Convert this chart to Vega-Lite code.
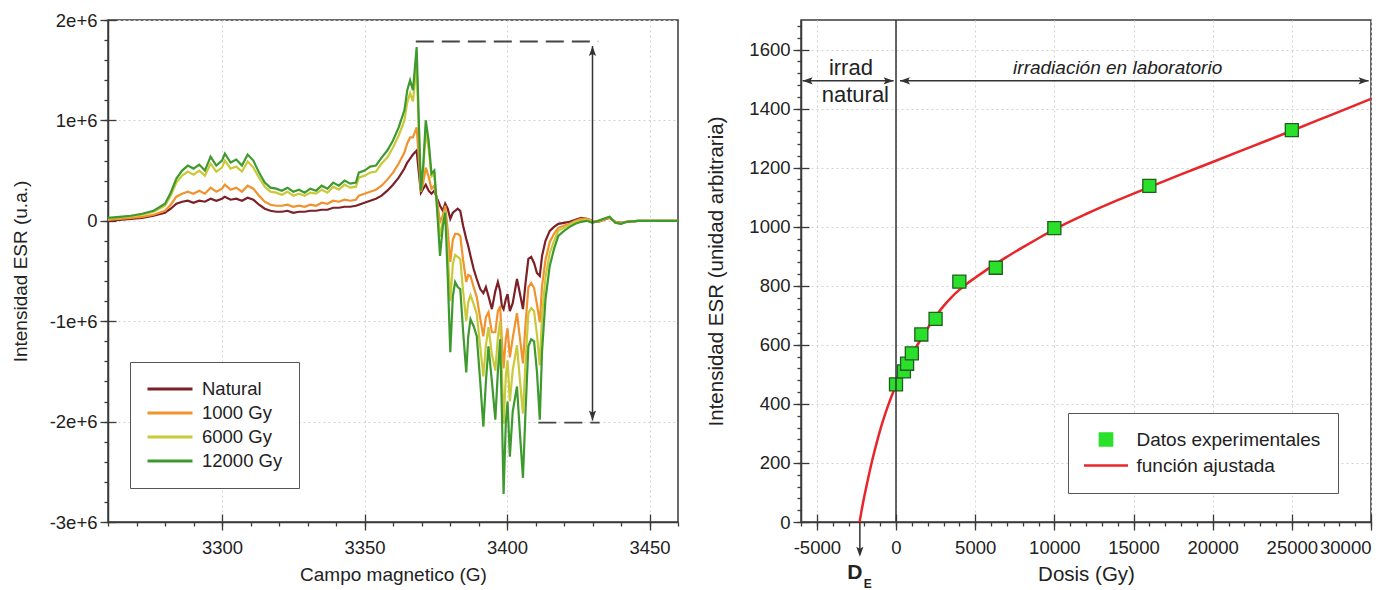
{
"$schema":"https://vega.github.io/schema/vega-lite/v6.json",
"padding":{"left":10,"top":10,"right":2,"bottom":0},
"bounds":"flush",
"spacing":123,
"config":{"font":"Liberation Sans","view":{"stroke":"#3a3a3a","strokeWidth":1.5},
"axis":{"domainColor":"#3a3a3a","domainWidth":1.5,"tickColor":"#3a3a3a","tickWidth":1.3,"labelColor":"#222","titleColor":"#222","labelFontSize":18.5,"titleFontWeight":"normal","gridColor":"#d2d2d2","gridDash":[2,3],"gridWidth":1},
"legend":{"labelColor":"#222"}},
"resolve":{"scale":{"color":"independent","shape":"independent"},"legend":{"color":"independent","shape":"independent"}},
"hconcat":[
{"width":570,"height":502,
"resolve":{"axis":{"x":"independent","y":"independent"}},
"layer":[
{"data":{"values":[
{"s":"Natural","x":3260,"y":0},{"s":"Natural","x":3264,"y":10000},{"s":"Natural","x":3268,"y":20000},{"s":"Natural","x":3272,"y":30000},{"s":"Natural","x":3276,"y":50000},{"s":"Natural","x":3280,"y":80000},{"s":"Natural","x":3282,"y":120000},{"s":"Natural","x":3284,"y":170000},{"s":"Natural","x":3286,"y":190000},{"s":"Natural","x":3288,"y":200000},{"s":"Natural","x":3290,"y":180000},{"s":"Natural","x":3292,"y":200000},{"s":"Natural","x":3294,"y":190000},{"s":"Natural","x":3296,"y":220000},{"s":"Natural","x":3298,"y":200000},{"s":"Natural","x":3300,"y":220000},{"s":"Natural","x":3301,"y":240000},{"s":"Natural","x":3303,"y":210000},{"s":"Natural","x":3305,"y":220000},{"s":"Natural","x":3307,"y":200000},{"s":"Natural","x":3309,"y":230000},{"s":"Natural","x":3311,"y":210000},{"s":"Natural","x":3313,"y":160000},{"s":"Natural","x":3315,"y":120000},{"s":"Natural","x":3317,"y":100000},{"s":"Natural","x":3319,"y":90000},{"s":"Natural","x":3321,"y":90000},{"s":"Natural","x":3323,"y":100000},{"s":"Natural","x":3325,"y":80000},{"s":"Natural","x":3327,"y":90000},{"s":"Natural","x":3329,"y":90000},{"s":"Natural","x":3331,"y":100000},{"s":"Natural","x":3333,"y":100000},{"s":"Natural","x":3335,"y":110000},{"s":"Natural","x":3337,"y":110000},{"s":"Natural","x":3339,"y":130000},{"s":"Natural","x":3341,"y":130000},{"s":"Natural","x":3343,"y":140000},{"s":"Natural","x":3345,"y":140000},{"s":"Natural","x":3347,"y":150000},{"s":"Natural","x":3348,"y":160000},{"s":"Natural","x":3350,"y":180000},{"s":"Natural","x":3352,"y":200000},{"s":"Natural","x":3354,"y":220000},{"s":"Natural","x":3356,"y":250000},{"s":"Natural","x":3358,"y":300000},{"s":"Natural","x":3360,"y":360000},{"s":"Natural","x":3362,"y":430000},{"s":"Natural","x":3364,"y":520000},{"s":"Natural","x":3365,"y":580000},{"s":"Natural","x":3366,"y":620000},{"s":"Natural","x":3367,"y":660000},{"s":"Natural","x":3368.3,"y":700000},{"s":"Natural","x":3369,"y":500000},{"s":"Natural","x":3369.8,"y":280000},{"s":"Natural","x":3370.6,"y":320000},{"s":"Natural","x":3371.5,"y":360000},{"s":"Natural","x":3372.5,"y":300000},{"s":"Natural","x":3373.5,"y":270000},{"s":"Natural","x":3374.5,"y":300000},{"s":"Natural","x":3375.5,"y":220000},{"s":"Natural","x":3376.5,"y":150000},{"s":"Natural","x":3377.5,"y":100000},{"s":"Natural","x":3378.3,"y":170000},{"s":"Natural","x":3379.2,"y":120000},{"s":"Natural","x":3380.1,"y":20000},{"s":"Natural","x":3381,"y":80000},{"s":"Natural","x":3381.8,"y":100000},{"s":"Natural","x":3382.7,"y":120000},{"s":"Natural","x":3383.6,"y":100000},{"s":"Natural","x":3384.6,"y":-50000},{"s":"Natural","x":3385.7,"y":-180000},{"s":"Natural","x":3386.4,"y":-250000},{"s":"Natural","x":3387.2,"y":-350000},{"s":"Natural","x":3388.3,"y":-480000},{"s":"Natural","x":3389.4,"y":-580000},{"s":"Natural","x":3390.6,"y":-680000},{"s":"Natural","x":3391.7,"y":-720000},{"s":"Natural","x":3392.6,"y":-660000},{"s":"Natural","x":3393.5,"y":-750000},{"s":"Natural","x":3394.7,"y":-880000},{"s":"Natural","x":3395.9,"y":-700000},{"s":"Natural","x":3396.8,"y":-610000},{"s":"Natural","x":3397.6,"y":-700000},{"s":"Natural","x":3398.2,"y":-850000},{"s":"Natural","x":3398.8,"y":-880000},{"s":"Natural","x":3399.6,"y":-780000},{"s":"Natural","x":3400.2,"y":-730000},{"s":"Natural","x":3401,"y":-900000},{"s":"Natural","x":3402,"y":-820000},{"s":"Natural","x":3403.5,"y":-580000},{"s":"Natural","x":3404.5,"y":-720000},{"s":"Natural","x":3405.6,"y":-880000},{"s":"Natural","x":3406.5,"y":-620000},{"s":"Natural","x":3407.5,"y":-380000},{"s":"Natural","x":3408.5,"y":-360000},{"s":"Natural","x":3409.5,"y":-420000},{"s":"Natural","x":3410.5,"y":-520000},{"s":"Natural","x":3411.5,"y":-550000},{"s":"Natural","x":3412.3,"y":-350000},{"s":"Natural","x":3413.5,"y":-200000},{"s":"Natural","x":3415,"y":-100000},{"s":"Natural","x":3416.5,"y":-60000},{"s":"Natural","x":3418,"y":-30000},{"s":"Natural","x":3420,"y":-20000},{"s":"Natural","x":3422,"y":-10000},{"s":"Natural","x":3424,"y":10000},{"s":"Natural","x":3426,"y":30000},{"s":"Natural","x":3428,"y":20000},{"s":"Natural","x":3430,"y":0},{"s":"Natural","x":3432,"y":-10000},{"s":"Natural","x":3434,"y":10000},{"s":"Natural","x":3436,"y":30000},{"s":"Natural","x":3438,"y":-10000},{"s":"Natural","x":3440,"y":-20000},{"s":"Natural","x":3442,"y":-10000},{"s":"Natural","x":3446,"y":0},{"s":"Natural","x":3450,"y":0},{"s":"Natural","x":3455,"y":0},{"s":"Natural","x":3460,"y":0},
{"s":"1000 Gy","x":3260,"y":10000},{"s":"1000 Gy","x":3264,"y":20000},{"s":"1000 Gy","x":3268,"y":30000},{"s":"1000 Gy","x":3272,"y":40000},{"s":"1000 Gy","x":3276,"y":60000},{"s":"1000 Gy","x":3280,"y":100000},{"s":"1000 Gy","x":3282,"y":160000},{"s":"1000 Gy","x":3284,"y":240000},{"s":"1000 Gy","x":3286,"y":270000},{"s":"1000 Gy","x":3288,"y":290000},{"s":"1000 Gy","x":3290,"y":270000},{"s":"1000 Gy","x":3292,"y":300000},{"s":"1000 Gy","x":3294,"y":270000},{"s":"1000 Gy","x":3296,"y":330000},{"s":"1000 Gy","x":3298,"y":290000},{"s":"1000 Gy","x":3300,"y":320000},{"s":"1000 Gy","x":3301,"y":360000},{"s":"1000 Gy","x":3303,"y":310000},{"s":"1000 Gy","x":3305,"y":330000},{"s":"1000 Gy","x":3307,"y":290000},{"s":"1000 Gy","x":3309,"y":350000},{"s":"1000 Gy","x":3311,"y":320000},{"s":"1000 Gy","x":3313,"y":250000},{"s":"1000 Gy","x":3315,"y":190000},{"s":"1000 Gy","x":3317,"y":160000},{"s":"1000 Gy","x":3319,"y":150000},{"s":"1000 Gy","x":3321,"y":150000},{"s":"1000 Gy","x":3323,"y":160000},{"s":"1000 Gy","x":3325,"y":140000},{"s":"1000 Gy","x":3327,"y":150000},{"s":"1000 Gy","x":3329,"y":140000},{"s":"1000 Gy","x":3331,"y":160000},{"s":"1000 Gy","x":3333,"y":150000},{"s":"1000 Gy","x":3335,"y":180000},{"s":"1000 Gy","x":3337,"y":170000},{"s":"1000 Gy","x":3339,"y":200000},{"s":"1000 Gy","x":3341,"y":190000},{"s":"1000 Gy","x":3343,"y":210000},{"s":"1000 Gy","x":3345,"y":200000},{"s":"1000 Gy","x":3347,"y":210000},{"s":"1000 Gy","x":3348,"y":250000},{"s":"1000 Gy","x":3350,"y":270000},{"s":"1000 Gy","x":3352,"y":290000},{"s":"1000 Gy","x":3354,"y":310000},{"s":"1000 Gy","x":3356,"y":350000},{"s":"1000 Gy","x":3358,"y":410000},{"s":"1000 Gy","x":3360,"y":480000},{"s":"1000 Gy","x":3362,"y":570000},{"s":"1000 Gy","x":3364,"y":680000},{"s":"1000 Gy","x":3365,"y":770000},{"s":"1000 Gy","x":3366,"y":830000},{"s":"1000 Gy","x":3367,"y":830000},{"s":"1000 Gy","x":3368.3,"y":930000},{"s":"1000 Gy","x":3369,"y":650000},{"s":"1000 Gy","x":3369.8,"y":290000},{"s":"1000 Gy","x":3370.6,"y":380000},{"s":"1000 Gy","x":3371.5,"y":530000},{"s":"1000 Gy","x":3372.5,"y":440000},{"s":"1000 Gy","x":3373.5,"y":320000},{"s":"1000 Gy","x":3374.5,"y":350000},{"s":"1000 Gy","x":3375.5,"y":190000},{"s":"1000 Gy","x":3376.5,"y":-10000},{"s":"1000 Gy","x":3377.5,"y":50000},{"s":"1000 Gy","x":3378.3,"y":150000},{"s":"1000 Gy","x":3379.2,"y":-90000},{"s":"1000 Gy","x":3380.1,"y":-410000},{"s":"1000 Gy","x":3381,"y":-190000},{"s":"1000 Gy","x":3381.8,"y":-130000},{"s":"1000 Gy","x":3382.7,"y":-130000},{"s":"1000 Gy","x":3383.6,"y":-150000},{"s":"1000 Gy","x":3384.6,"y":-390000},{"s":"1000 Gy","x":3385.7,"y":-610000},{"s":"1000 Gy","x":3386.4,"y":-540000},{"s":"1000 Gy","x":3387.2,"y":-550000},{"s":"1000 Gy","x":3388.3,"y":-660000},{"s":"1000 Gy","x":3389.4,"y":-760000},{"s":"1000 Gy","x":3390.6,"y":-970000},{"s":"1000 Gy","x":3391.7,"y":-1150000},{"s":"1000 Gy","x":3392.6,"y":-960000},{"s":"1000 Gy","x":3393.5,"y":-910000},{"s":"1000 Gy","x":3394.7,"y":-1110000},{"s":"1000 Gy","x":3395.9,"y":-1110000},{"s":"1000 Gy","x":3396.8,"y":-900000},{"s":"1000 Gy","x":3397.6,"y":-850000},{"s":"1000 Gy","x":3398.2,"y":-1190000},{"s":"1000 Gy","x":3398.8,"y":-1470000},{"s":"1000 Gy","x":3399.6,"y":-1170000},{"s":"1000 Gy","x":3400.2,"y":-1070000},{"s":"1000 Gy","x":3401,"y":-1360000},{"s":"1000 Gy","x":3402,"y":-1170000},{"s":"1000 Gy","x":3403.5,"y":-920000},{"s":"1000 Gy","x":3404.5,"y":-1160000},{"s":"1000 Gy","x":3405.6,"y":-1420000},{"s":"1000 Gy","x":3406.5,"y":-1030000},{"s":"1000 Gy","x":3407.5,"y":-660000},{"s":"1000 Gy","x":3408.5,"y":-620000},{"s":"1000 Gy","x":3409.5,"y":-670000},{"s":"1000 Gy","x":3410.5,"y":-830000},{"s":"1000 Gy","x":3411.5,"y":-1010000},{"s":"1000 Gy","x":3412.3,"y":-650000},{"s":"1000 Gy","x":3413.5,"y":-390000},{"s":"1000 Gy","x":3415,"y":-210000},{"s":"1000 Gy","x":3416.5,"y":-130000},{"s":"1000 Gy","x":3418,"y":-70000},{"s":"1000 Gy","x":3420,"y":-50000},{"s":"1000 Gy","x":3422,"y":-30000},{"s":"1000 Gy","x":3424,"y":0},{"s":"1000 Gy","x":3426,"y":20000},{"s":"1000 Gy","x":3428,"y":20000},{"s":"1000 Gy","x":3430,"y":0},{"s":"1000 Gy","x":3432,"y":-10000},{"s":"1000 Gy","x":3434,"y":10000},{"s":"1000 Gy","x":3436,"y":30000},{"s":"1000 Gy","x":3438,"y":-10000},{"s":"1000 Gy","x":3440,"y":-20000},{"s":"1000 Gy","x":3442,"y":-10000},{"s":"1000 Gy","x":3446,"y":0},{"s":"1000 Gy","x":3450,"y":0},{"s":"1000 Gy","x":3455,"y":0},{"s":"1000 Gy","x":3460,"y":0},
{"s":"6000 Gy","x":3260,"y":20000},{"s":"6000 Gy","x":3264,"y":35000},{"s":"6000 Gy","x":3268,"y":45000},{"s":"6000 Gy","x":3272,"y":60000},{"s":"6000 Gy","x":3276,"y":90000},{"s":"6000 Gy","x":3280,"y":150000},{"s":"6000 Gy","x":3282,"y":250000},{"s":"6000 Gy","x":3284,"y":380000},{"s":"6000 Gy","x":3286,"y":450000},{"s":"6000 Gy","x":3288,"y":490000},{"s":"6000 Gy","x":3290,"y":460000},{"s":"6000 Gy","x":3292,"y":500000},{"s":"6000 Gy","x":3294,"y":450000},{"s":"6000 Gy","x":3296,"y":570000},{"s":"6000 Gy","x":3298,"y":490000},{"s":"6000 Gy","x":3300,"y":530000},{"s":"6000 Gy","x":3301,"y":600000},{"s":"6000 Gy","x":3303,"y":520000},{"s":"6000 Gy","x":3305,"y":540000},{"s":"6000 Gy","x":3307,"y":490000},{"s":"6000 Gy","x":3309,"y":590000},{"s":"6000 Gy","x":3311,"y":530000},{"s":"6000 Gy","x":3313,"y":430000},{"s":"6000 Gy","x":3315,"y":340000},{"s":"6000 Gy","x":3317,"y":290000},{"s":"6000 Gy","x":3319,"y":280000},{"s":"6000 Gy","x":3321,"y":260000},{"s":"6000 Gy","x":3323,"y":290000},{"s":"6000 Gy","x":3325,"y":250000},{"s":"6000 Gy","x":3327,"y":270000},{"s":"6000 Gy","x":3329,"y":250000},{"s":"6000 Gy","x":3331,"y":280000},{"s":"6000 Gy","x":3333,"y":270000},{"s":"6000 Gy","x":3335,"y":310000},{"s":"6000 Gy","x":3337,"y":280000},{"s":"6000 Gy","x":3339,"y":340000},{"s":"6000 Gy","x":3341,"y":310000},{"s":"6000 Gy","x":3343,"y":360000},{"s":"6000 Gy","x":3345,"y":330000},{"s":"6000 Gy","x":3347,"y":340000},{"s":"6000 Gy","x":3348,"y":430000},{"s":"6000 Gy","x":3350,"y":450000},{"s":"6000 Gy","x":3352,"y":480000},{"s":"6000 Gy","x":3354,"y":490000},{"s":"6000 Gy","x":3356,"y":570000},{"s":"6000 Gy","x":3358,"y":630000},{"s":"6000 Gy","x":3360,"y":730000},{"s":"6000 Gy","x":3362,"y":850000},{"s":"6000 Gy","x":3364,"y":1000000},{"s":"6000 Gy","x":3365,"y":1180000},{"s":"6000 Gy","x":3366,"y":1270000},{"s":"6000 Gy","x":3367,"y":1190000},{"s":"6000 Gy","x":3368.3,"y":1550000},{"s":"6000 Gy","x":3369,"y":960000},{"s":"6000 Gy","x":3369.8,"y":300000},{"s":"6000 Gy","x":3370.6,"y":510000},{"s":"6000 Gy","x":3371.5,"y":890000},{"s":"6000 Gy","x":3372.5,"y":720000},{"s":"6000 Gy","x":3373.5,"y":440000},{"s":"6000 Gy","x":3374.5,"y":470000},{"s":"6000 Gy","x":3375.5,"y":120000},{"s":"6000 Gy","x":3376.5,"y":-160000},{"s":"6000 Gy","x":3377.5,"y":10000},{"s":"6000 Gy","x":3378.3,"y":100000},{"s":"6000 Gy","x":3379.2,"y":-300000},{"s":"6000 Gy","x":3380.1,"y":-800000},{"s":"6000 Gy","x":3381,"y":-430000},{"s":"6000 Gy","x":3381.8,"y":-340000},{"s":"6000 Gy","x":3382.7,"y":-360000},{"s":"6000 Gy","x":3383.6,"y":-380000},{"s":"6000 Gy","x":3384.6,"y":-700000},{"s":"6000 Gy","x":3385.7,"y":-1000000},{"s":"6000 Gy","x":3386.4,"y":-810000},{"s":"6000 Gy","x":3387.2,"y":-740000},{"s":"6000 Gy","x":3388.3,"y":-830000},{"s":"6000 Gy","x":3389.4,"y":-930000},{"s":"6000 Gy","x":3390.6,"y":-1250000},{"s":"6000 Gy","x":3391.7,"y":-1550000},{"s":"6000 Gy","x":3392.6,"y":-1240000},{"s":"6000 Gy","x":3393.5,"y":-1060000},{"s":"6000 Gy","x":3394.7,"y":-1330000},{"s":"6000 Gy","x":3395.9,"y":-1490000},{"s":"6000 Gy","x":3396.8,"y":-1160000},{"s":"6000 Gy","x":3397.6,"y":-1000000},{"s":"6000 Gy","x":3398.2,"y":-1500000},{"s":"6000 Gy","x":3398.8,"y":-2020000},{"s":"6000 Gy","x":3399.6,"y":-1540000},{"s":"6000 Gy","x":3400.2,"y":-1390000},{"s":"6000 Gy","x":3401,"y":-1800000},{"s":"6000 Gy","x":3402,"y":-1490000},{"s":"6000 Gy","x":3403.5,"y":-1240000},{"s":"6000 Gy","x":3404.5,"y":-1580000},{"s":"6000 Gy","x":3405.6,"y":-1920000},{"s":"6000 Gy","x":3406.5,"y":-1410000},{"s":"6000 Gy","x":3407.5,"y":-920000},{"s":"6000 Gy","x":3408.5,"y":-870000},{"s":"6000 Gy","x":3409.5,"y":-900000},{"s":"6000 Gy","x":3410.5,"y":-1130000},{"s":"6000 Gy","x":3411.5,"y":-1440000},{"s":"6000 Gy","x":3412.3,"y":-940000},{"s":"6000 Gy","x":3413.5,"y":-560000},{"s":"6000 Gy","x":3415,"y":-320000},{"s":"6000 Gy","x":3416.5,"y":-200000},{"s":"6000 Gy","x":3418,"y":-100000},{"s":"6000 Gy","x":3420,"y":-70000},{"s":"6000 Gy","x":3422,"y":-40000},{"s":"6000 Gy","x":3424,"y":-10000},{"s":"6000 Gy","x":3426,"y":0},{"s":"6000 Gy","x":3428,"y":10000},{"s":"6000 Gy","x":3430,"y":-10000},{"s":"6000 Gy","x":3432,"y":0},{"s":"6000 Gy","x":3434,"y":20000},{"s":"6000 Gy","x":3436,"y":40000},{"s":"6000 Gy","x":3438,"y":-20000},{"s":"6000 Gy","x":3440,"y":-30000},{"s":"6000 Gy","x":3442,"y":-10000},{"s":"6000 Gy","x":3446,"y":0},{"s":"6000 Gy","x":3450,"y":0},{"s":"6000 Gy","x":3455,"y":0},{"s":"6000 Gy","x":3460,"y":0},
{"s":"12000 Gy","x":3260,"y":30000},{"s":"12000 Gy","x":3264,"y":40000},{"s":"12000 Gy","x":3268,"y":50000},{"s":"12000 Gy","x":3272,"y":70000},{"s":"12000 Gy","x":3276,"y":100000},{"s":"12000 Gy","x":3280,"y":170000},{"s":"12000 Gy","x":3282,"y":280000},{"s":"12000 Gy","x":3284,"y":420000},{"s":"12000 Gy","x":3286,"y":500000},{"s":"12000 Gy","x":3288,"y":550000},{"s":"12000 Gy","x":3290,"y":520000},{"s":"12000 Gy","x":3292,"y":560000},{"s":"12000 Gy","x":3294,"y":500000},{"s":"12000 Gy","x":3296,"y":640000},{"s":"12000 Gy","x":3298,"y":550000},{"s":"12000 Gy","x":3300,"y":600000},{"s":"12000 Gy","x":3301,"y":670000},{"s":"12000 Gy","x":3303,"y":580000},{"s":"12000 Gy","x":3305,"y":610000},{"s":"12000 Gy","x":3307,"y":550000},{"s":"12000 Gy","x":3309,"y":660000},{"s":"12000 Gy","x":3311,"y":600000},{"s":"12000 Gy","x":3313,"y":480000},{"s":"12000 Gy","x":3315,"y":380000},{"s":"12000 Gy","x":3317,"y":330000},{"s":"12000 Gy","x":3319,"y":320000},{"s":"12000 Gy","x":3321,"y":300000},{"s":"12000 Gy","x":3323,"y":330000},{"s":"12000 Gy","x":3325,"y":290000},{"s":"12000 Gy","x":3327,"y":310000},{"s":"12000 Gy","x":3329,"y":280000},{"s":"12000 Gy","x":3331,"y":320000},{"s":"12000 Gy","x":3333,"y":300000},{"s":"12000 Gy","x":3335,"y":350000},{"s":"12000 Gy","x":3337,"y":320000},{"s":"12000 Gy","x":3339,"y":380000},{"s":"12000 Gy","x":3341,"y":350000},{"s":"12000 Gy","x":3343,"y":400000},{"s":"12000 Gy","x":3345,"y":370000},{"s":"12000 Gy","x":3347,"y":380000},{"s":"12000 Gy","x":3348,"y":480000},{"s":"12000 Gy","x":3350,"y":500000},{"s":"12000 Gy","x":3352,"y":540000},{"s":"12000 Gy","x":3354,"y":550000},{"s":"12000 Gy","x":3356,"y":630000},{"s":"12000 Gy","x":3358,"y":700000},{"s":"12000 Gy","x":3360,"y":800000},{"s":"12000 Gy","x":3362,"y":930000},{"s":"12000 Gy","x":3364,"y":1100000},{"s":"12000 Gy","x":3365,"y":1300000},{"s":"12000 Gy","x":3366,"y":1400000},{"s":"12000 Gy","x":3367,"y":1300000},{"s":"12000 Gy","x":3368.3,"y":1730000},{"s":"12000 Gy","x":3369,"y":1050000},{"s":"12000 Gy","x":3369.8,"y":300000},{"s":"12000 Gy","x":3370.6,"y":550000},{"s":"12000 Gy","x":3371.5,"y":1000000},{"s":"12000 Gy","x":3372.5,"y":800000},{"s":"12000 Gy","x":3373.5,"y":470000},{"s":"12000 Gy","x":3374.5,"y":500000},{"s":"12000 Gy","x":3375.5,"y":100000},{"s":"12000 Gy","x":3376.5,"y":-350000},{"s":"12000 Gy","x":3377.5,"y":-50000},{"s":"12000 Gy","x":3378.3,"y":80000},{"s":"12000 Gy","x":3379.2,"y":-550000},{"s":"12000 Gy","x":3380.1,"y":-1310000},{"s":"12000 Gy","x":3381,"y":-750000},{"s":"12000 Gy","x":3381.8,"y":-610000},{"s":"12000 Gy","x":3382.7,"y":-660000},{"s":"12000 Gy","x":3383.6,"y":-680000},{"s":"12000 Gy","x":3384.6,"y":-1100000},{"s":"12000 Gy","x":3385.7,"y":-1510000},{"s":"12000 Gy","x":3386.4,"y":-1150000},{"s":"12000 Gy","x":3387.2,"y":-980000},{"s":"12000 Gy","x":3388.3,"y":-1050000},{"s":"12000 Gy","x":3389.4,"y":-1150000},{"s":"12000 Gy","x":3390.6,"y":-1600000},{"s":"12000 Gy","x":3391.7,"y":-2050000},{"s":"12000 Gy","x":3392.6,"y":-1600000},{"s":"12000 Gy","x":3393.5,"y":-1250000},{"s":"12000 Gy","x":3394.7,"y":-1600000},{"s":"12000 Gy","x":3395.9,"y":-1980000},{"s":"12000 Gy","x":3396.8,"y":-1500000},{"s":"12000 Gy","x":3397.6,"y":-1180000},{"s":"12000 Gy","x":3398.2,"y":-1900000},{"s":"12000 Gy","x":3398.8,"y":-2720000},{"s":"12000 Gy","x":3399.6,"y":-2000000},{"s":"12000 Gy","x":3400.2,"y":-1800000},{"s":"12000 Gy","x":3401,"y":-2350000},{"s":"12000 Gy","x":3402,"y":-1900000},{"s":"12000 Gy","x":3403.5,"y":-1650000},{"s":"12000 Gy","x":3404.5,"y":-2100000},{"s":"12000 Gy","x":3405.6,"y":-2560000},{"s":"12000 Gy","x":3406.5,"y":-1900000},{"s":"12000 Gy","x":3407.5,"y":-1250000},{"s":"12000 Gy","x":3408.5,"y":-1180000},{"s":"12000 Gy","x":3409.5,"y":-1200000},{"s":"12000 Gy","x":3410.5,"y":-1500000},{"s":"12000 Gy","x":3411.5,"y":-1980000},{"s":"12000 Gy","x":3412.3,"y":-1300000},{"s":"12000 Gy","x":3413.5,"y":-780000},{"s":"12000 Gy","x":3415,"y":-450000},{"s":"12000 Gy","x":3416.5,"y":-280000},{"s":"12000 Gy","x":3418,"y":-150000},{"s":"12000 Gy","x":3420,"y":-100000},{"s":"12000 Gy","x":3422,"y":-60000},{"s":"12000 Gy","x":3424,"y":-30000},{"s":"12000 Gy","x":3426,"y":-10000},{"s":"12000 Gy","x":3428,"y":0},{"s":"12000 Gy","x":3430,"y":-20000},{"s":"12000 Gy","x":3432,"y":0},{"s":"12000 Gy","x":3434,"y":20000},{"s":"12000 Gy","x":3436,"y":40000},{"s":"12000 Gy","x":3438,"y":-20000},{"s":"12000 Gy","x":3440,"y":-30000},{"s":"12000 Gy","x":3442,"y":-10000},{"s":"12000 Gy","x":3446,"y":0},{"s":"12000 Gy","x":3450,"y":0},{"s":"12000 Gy","x":3455,"y":0},{"s":"12000 Gy","x":3460,"y":0}
]},
"mark":{"type":"line","strokeWidth":2.2},
"encoding":{
"x":{"field":"x","type":"quantitative","scale":{"domain":[3260,3460],"nice":false,"zero":false},"axis":{"orient":"bottom","values":[3300,3350,3400,3450],"format":"d","tickSize":8,"labelPadding":8,"grid":true,"title":"Campo magnetico (G)","titleFontSize":19,"titlePadding":9}},
"y":{"field":"y","type":"quantitative","scale":{"domain":[-3000000,2000000],"nice":false,"zero":false},"axis":{"orient":"left","values":[-3000000,-2000000,-1000000,0,1000000,2000000],"labelExpr":"datum.value == 0 ? '0' : (datum.value / 1000000) + 'e+6'","tickSize":8,"labelPadding":3,"grid":true,"title":"Intensidad ESR (u.a.)","titleFontSize":19,"titlePadding":19}},
"color":{"field":"s","type":"nominal","scale":{"domain":["Natural","1000 Gy","6000 Gy","12000 Gy"],"range":["#7b2027","#f0922e","#c9c93a","#3e9a2e"]},
"legend":{"orient":"none","legendX":22,"legendY":342,"title":null,"padding":16,"strokeColor":"#555","fillColor":"white","symbolType":"stroke","symbolSize":2025,"symbolStrokeWidth":3,"labelFontSize":18.5,"labelOffset":8,"clipHeight":22,"rowPadding":2,"labelExpr":"datum.label + '\u00a0\u00a0'"}}
}},
{"data":{"values":[{"x1":3368,"x2":3432,"y":1786000},{"x1":3411,"x2":3432.5,"y":-2010000}]},
"mark":{"type":"rule","strokeDash":[18,8],"color":"#444","strokeWidth":1.8},
"encoding":{
"x":{"field":"x1","type":"quantitative","scale":{"domain":[3260,3460],"nice":false,"zero":false},"axis":{"orient":"bottom","values":[3260,3270,3280,3290,3300,3310,3320,3330,3340,3350,3360,3370,3380,3390,3400,3410,3420,3430,3440,3450,3460],"tickSize":4,"labels":false,"domain":false,"grid":false,"title":null}},
"x2":{"field":"x2"},
"y":{"field":"y","type":"quantitative","scale":{"domain":[-3000000,2000000],"nice":false,"zero":false},"axis":{"orient":"left","values":[-3000000,-2800000,-2600000,-2400000,-2200000,-2000000,-1800000,-1600000,-1400000,-1200000,-1000000,-800000,-600000,-400000,-200000,0,200000,400000,600000,800000,1000000,1200000,1400000,1600000,1800000,2000000],"tickSize":4,"labels":false,"domain":false,"grid":false,"title":null}}
}},
{"data":{"values":[{"x":3430,"y1":1740000,"y2":-1990000}]},
"mark":{"type":"rule","color":"#333","strokeWidth":1.5},
"encoding":{
"x":{"field":"x","type":"quantitative","scale":{"domain":[3260,3460],"nice":false,"zero":false},"axis":{"orient":"bottom","values":[3300,3350,3400,3450],"tickSize":-8,"labels":false,"domain":false,"grid":false,"title":null}},
"y":{"field":"y1","type":"quantitative","scale":{"domain":[-3000000,2000000],"nice":false,"zero":false},"axis":{"orient":"left","values":[-3000000,-2000000,-1000000,0,1000000,2000000],"tickSize":-8,"labels":false,"domain":false,"grid":false,"title":null}},
"y2":{"field":"y2"}
}},
{"data":{"values":[{"x":3430,"y":1740000,"dir":"u"},{"x":3430,"y":-1990000,"dir":"d"}]},
"mark":{"type":"point","filled":true,"color":"#333","size":400,"opacity":1},
"encoding":{
"x":{"field":"x","type":"quantitative","axis":null},
"y":{"field":"y","type":"quantitative","axis":null},
"shape":{"field":"dir","type":"nominal","scale":{"domain":["u","d"],"range":["M0,0L-0.36,1L0,0.8L0.36,1Z","M0,0L-0.36,-1L0,-0.8L0.36,-1Z"]},"legend":null}
}}
]},
{"width":570,"height":502,
"resolve":{"axis":{"x":"independent","y":"independent"}},
"layer":[
{"data":{"values":[{"d":-2300,"i":0},{"d":-2200,"i":31},{"d":-2000,"i":87},{"d":-1750,"i":150},{"d":-1500,"i":209},{"d":-1250,"i":262},{"d":-1000,"i":311},{"d":-750,"i":355},{"d":-500,"i":394},{"d":-250,"i":430},{"d":0,"i":462},{"d":250,"i":491},{"d":500,"i":518},{"d":750,"i":543},{"d":1000,"i":567},{"d":1500,"i":613},{"d":2000,"i":656},{"d":2500,"i":696},{"d":3000,"i":731},{"d":3500,"i":761},{"d":4000,"i":786},{"d":4500,"i":808},{"d":5000,"i":827},{"d":6000,"i":864},{"d":7000,"i":898},{"d":8000,"i":930},{"d":9000,"i":961},{"d":10000,"i":991},{"d":12000,"i":1043},{"d":14000,"i":1090},{"d":16000,"i":1134},{"d":18000,"i":1177},{"d":20000,"i":1219},{"d":22500,"i":1272},{"d":25000,"i":1325},{"d":27500,"i":1379},{"d":30000,"i":1433}]},
"mark":{"type":"line","strokeWidth":2.5,"interpolate":"monotone"},
"encoding":{
"x":{"field":"d","type":"quantitative","scale":{"domain":[-6000,30000],"nice":false,"zero":false},"axis":{"orient":"bottom","values":[-5000,0,5000,10000,15000,20000,25000,30000],"labelExpr":"'' + datum.value","tickSize":8,"labelPadding":8,"grid":true,"title":"Dosis (Gy)","titleFontSize":20.5,"titlePadding":8}},
"y":{"field":"i","type":"quantitative","scale":{"domain":[0,1700],"nice":false,"zero":false},"axis":{"orient":"left","values":[0,200,400,600,800,1000,1200,1400,1600],"format":"d","tickSize":8,"labelPadding":3,"grid":true,"title":"Intensidad ESR (unidad arbitraria)","titleFontSize":20.5,"titlePadding":22}},
"color":{"datum":"función ajustada","type":"nominal","scale":{"domain":["Datos experimentales","función ajustada"],"range":["#2be02b","#e8262a"]},
"legend":{"orient":"none","legendX":267,"legendY":393,"title":null,"padding":17,"strokeColor":"#555","fillColor":"white","symbolType":"stroke","symbolSize":1936,"symbolStrokeWidth":2.5,"symbolOffset":11.5,"labelFontSize":19,"labelLimit":400,"labelOffset":21,"rowPadding":6,
"encode":{"symbols":{"update":{
"size":{"value":1936},
"shape":{"signal":"datum.value === 'función ajustada' ? 'stroke' : 'M-0.3,-0.3L0.3,-0.3L0.3,0.3L-0.3,0.3Z'"},
"fill":{"signal":"datum.value === 'función ajustada' ? 'transparent' : '#2be02b'"},
"stroke":{"signal":"datum.value === 'función ajustada' ? '#e8262a' : '#1e5e1e'"},
"strokeWidth":{"signal":"datum.value === 'función ajustada' ? 2.5 : 1.5"},
"opacity":{"value":1}}}}}}
}},
{"data":{"values":[{"d":0,"i":466},{"d":500,"i":510},{"d":700,"i":536},{"d":1000,"i":571},{"d":1600,"i":635},{"d":2500,"i":688},{"d":4000,"i":814},{"d":6300,"i":861},{"d":10000,"i":995},{"d":16000,"i":1138},{"d":25000,"i":1327}]},
"mark":{"type":"point","shape":"square","filled":true,"size":170,"stroke":"#1e5e1e","strokeWidth":1.3,"opacity":1},
"encoding":{
"x":{"field":"d","type":"quantitative","scale":{"domain":[-6000,30000],"nice":false,"zero":false},"axis":{"orient":"bottom","values":[-6000,-5000,-4000,-3000,-2000,-1000,0,1000,2000,3000,4000,5000,6000,7000,8000,9000,10000,11000,12000,13000,14000,15000,16000,17000,18000,19000,20000,21000,22000,23000,24000,25000,26000,27000,28000,29000,30000],"tickSize":4,"labels":false,"domain":false,"grid":false,"title":null}},
"y":{"field":"i","type":"quantitative","scale":{"domain":[0,1700],"nice":false,"zero":false},"axis":{"orient":"left","values":[0,40,80,120,160,200,240,280,320,360,400,440,480,520,560,600,640,680,720,760,800,840,880,920,960,1000,1040,1080,1120,1160,1200,1240,1280,1320,1360,1400,1440,1480,1520,1560,1600,1640,1680],"tickSize":4,"labels":false,"domain":false,"grid":false,"title":null}},
"color":{"datum":"Datos experimentales","type":"nominal"}
}},
{"data":{"values":[{}]},"mark":{"type":"rule","color":"#333","strokeWidth":1.5},
"encoding":{"x":{"datum":0,"type":"quantitative","axis":{"orient":"bottom","values":[-5000,0,5000,10000,15000,20000,25000,30000],"tickSize":-8,"labels":false,"domain":false,"grid":false,"title":null}}}},
{"data":{"values":[{}]},"mark":{"type":"rule","color":"#333","strokeWidth":1.5},
"encoding":{"x":{"datum":-5900,"type":"quantitative","axis":null},"x2":{"datum":-150},"y":{"datum":1494,"type":"quantitative","axis":{"orient":"left","values":[0,200,400,600,800,1000,1200,1400,1600],"tickSize":-8,"labels":false,"domain":false,"grid":false,"title":null}}}},
{"data":{"values":[{}]},"mark":{"type":"rule","color":"#333","strokeWidth":1.5},
"encoding":{"x":{"datum":250,"type":"quantitative","axis":null},"x2":{"datum":29850},"y":{"datum":1494,"type":"quantitative","axis":null}}},
{"data":{"values":[{}]},"mark":{"type":"rule","color":"#333","strokeWidth":1.5},
"encoding":{"x":{"datum":-2282,"type":"quantitative","axis":null},"y":{"datum":0,"type":"quantitative","axis":null},"y2":{"datum":-110}}},
{"data":{"values":[{"x":-5900,"y":1494,"dir":"l"},{"x":-150,"y":1494,"dir":"r"},{"x":250,"y":1494,"dir":"l"},{"x":29850,"y":1494,"dir":"r"},{"x":-2282,"y":-118,"dir":"d"}]},
"mark":{"type":"point","filled":true,"color":"#333","size":400,"opacity":1},
"encoding":{
"x":{"field":"x","type":"quantitative","axis":null},
"y":{"field":"y","type":"quantitative","axis":null},
"shape":{"field":"dir","type":"nominal","scale":{"domain":["l","r","d"],"range":["M0,0L1,-0.36L0.8,0L1,0.36Z","M0,0L-1,-0.36L-0.8,0L-1,0.36Z","M0,0L-0.36,-1L0,-0.8L0.36,-1Z"]},"legend":null}
}},
{"data":{"values":[{}]},"mark":{"type":"text","text":"irrad","fontSize":22,"color":"#222","align":"center","baseline":"middle"},
"encoding":{"x":{"datum":-2850,"type":"quantitative","axis":null},"y":{"datum":1539,"type":"quantitative","axis":null}}},
{"data":{"values":[{}]},"mark":{"type":"text","text":"natural","fontSize":22,"color":"#222","align":"center","baseline":"middle"},
"encoding":{"x":{"datum":-2566,"type":"quantitative","axis":null},"y":{"datum":1446,"type":"quantitative","axis":null}}},
{"data":{"values":[{}]},"mark":{"type":"text","text":"irradiación en laboratorio","fontSize":19,"fontStyle":"italic","color":"#222","align":"center","baseline":"middle"},
"encoding":{"x":{"datum":14000,"type":"quantitative","axis":null},"y":{"datum":1537,"type":"quantitative","axis":null}}},
{"data":{"values":[{}]},"mark":{"type":"text","text":"D","fontSize":21,"fontWeight":"bold","color":"#222","align":"center","baseline":"middle"},
"encoding":{"x":{"datum":-2597,"type":"quantitative","axis":null},"y":{"datum":-173,"type":"quantitative","axis":null}}},
{"data":{"values":[{}]},"mark":{"type":"text","text":"E","fontSize":12,"fontWeight":"bold","color":"#222","align":"center","baseline":"middle"},
"encoding":{"x":{"datum":-1780,"type":"quantitative","axis":null},"y":{"datum":-210,"type":"quantitative","axis":null}}}
]}
]
}
